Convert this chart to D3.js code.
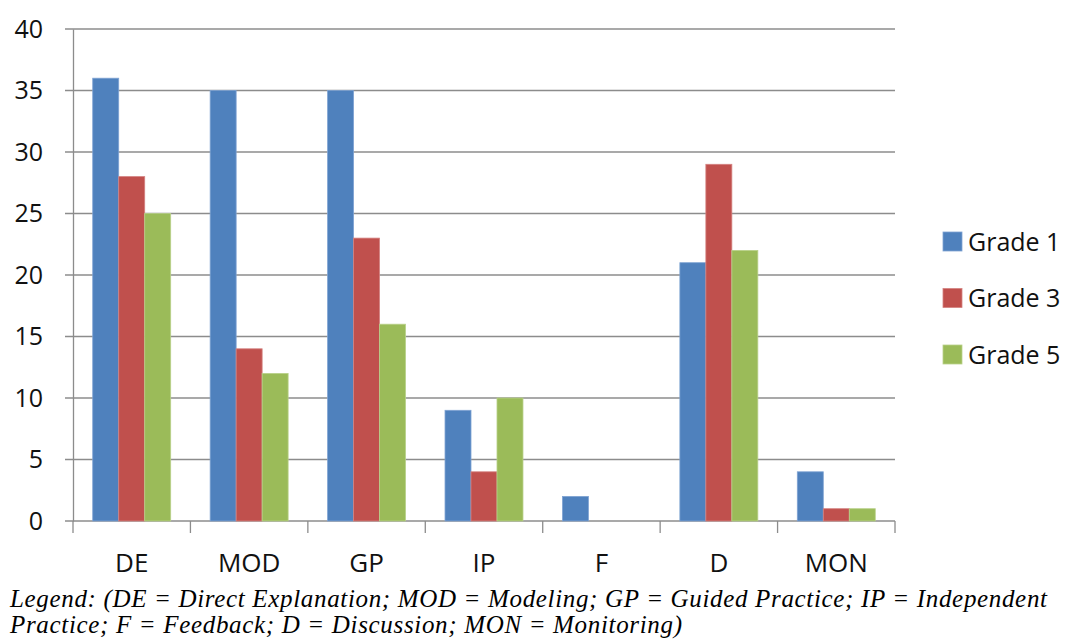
<!DOCTYPE html>
<html>
<head>
<meta charset="utf-8">
<script src="https://cdn.jsdelivr.net/npm/d3@7"></script>
<style>
  body { margin: 0; background: #fff; }
</style>
</head>
<body>
<div id="chart"></div>
<script>
// data
const categories = ["DE", "MOD", "GP", "IP", "F", "D", "MON"];
const seriesNames = ["Grade 1", "Grade 3", "Grade 5"];
const grade1 = [36, 35, 35, 9, 2, 21, 4];
const grade3 = [28, 14, 23, 4, 0, 29, 1];
const grade5 = [25, 12, 16, 10, 0, 22, 1];
const yTicks = [0, 5, 10, 15, 20, 25, 30, 35, 40];
const colors = ["#4F81BD", "#C0504D", "#9BBB59"];
const edges = ["#7fa3d3", "#d48280", "#b9d18a"];
const captionLines = [
  "Legend: (DE = Direct Explanation; MOD = Modeling; GP = Guided Practice; IP = Independent",
  "Practice; F = Feedback; D = Discussion; MON = Monitoring)"
];
const captionWidths = [1037, 672];

const width = 1067, height = 641;
const plot = {left: 73, right: 895, top: 29, bottom: 521};
const values = [grade1, grade3, grade5];

const svg = d3.select("#chart").append("svg")
  .attr("width", width)
  .attr("height", height)
  .attr("font-family", "'Open Sans', sans-serif");

const x = d3.scaleBand(categories, [plot.left, plot.right]).paddingInner(0).paddingOuter(0);
const y = d3.scaleLinear([0, 40], [plot.bottom, plot.top]);
const groupW = x.bandwidth() * 0.664;
const xs = d3.scaleBand(d3.range(seriesNames.length), [0, groupW]);

// gridlines + y tick marks
svg.append("g")
  .selectAll("line")
  .data(yTicks)
  .join("line")
  .attr("x1", plot.left - 8)
  .attr("x2", plot.right)
  .attr("y1", d => y(d))
  .attr("y2", d => y(d))
  .attr("stroke", "#8c8c8c")
  .attr("stroke-width", 1.3);

// y axis
svg.append("g")
  .attr("transform", `translate(${plot.left},0)`)
  .call(d3.axisLeft(y).tickValues(yTicks).tickSize(0).tickPadding(30))
  .call(g => g.select(".domain").attr("stroke", "#8c8c8c").attr("stroke-width", 1.3))
  .call(g => g.attr("font-size", null).attr("font-family", null))
  .selectAll("text")
  .style("font-size", "25px")
  .attr("fill", "#111");

// x axis
svg.append("g")
  .attr("transform", `translate(0,${plot.bottom})`)
  .call(d3.axisBottom(x).tickSize(0).tickPadding(33))
  .call(g => g.select(".domain").remove())
  .call(g => g.attr("font-size", null).attr("font-family", null))
  .selectAll("text")
  .style("font-size", "26px")
  .attr("fill", "#111");

// x category tick marks at band edges
svg.append("g")
  .selectAll("line")
  .data(categories.concat(["end"]))
  .join("line")
  .attr("x1", (d, i) => plot.left + i * x.step())
  .attr("x2", (d, i) => plot.left + i * x.step())
  .attr("y1", plot.bottom)
  .attr("y2", plot.bottom + 12)
  .attr("stroke", "#8c8c8c")
  .attr("stroke-width", 1.3);

// bars
values.forEach((vals, s) => {
  svg.append("g")
    .selectAll("rect")
    .data(vals)
    .join("rect")
    .attr("x", (d, i) => x(categories[i]) + (x.bandwidth() - groupW) / 2 + xs(s))
    .attr("y", d => y(d))
    .attr("width", xs.bandwidth())
    .attr("height", d => y(0) - y(d))
    .attr("fill", colors[s])
    .attr("stroke", d => d > 0 ? edges[s] : "none")
    .attr("stroke-width", 0.8);
});

// legend
const legend = svg.append("g").attr("transform", "translate(943,232)");
seriesNames.forEach((name, i) => {
  const row = legend.append("g").attr("transform", `translate(0,${i * 56.5})`);
  row.append("rect")
    .attr("width", 19).attr("height", 19)
    .attr("fill", colors[i])
    .attr("stroke", edges[i]).attr("stroke-width", 0.8);
  row.append("text")
    .attr("x", 25).attr("y", 10)
    .attr("dy", "0.35em")
    .attr("font-size", "25px")
    .attr("fill", "#111")
    .text(name);
});

// caption below the chart
svg.append("g")
  .selectAll("text")
  .data(captionLines)
  .join("text")
  .attr("x", 10)
  .attr("y", (d, i) => 607 + i * 26)
  .attr("font-family", "'Liberation Serif', 'Times New Roman', serif")
  .attr("font-style", "italic")
  .attr("font-size", "25px")
  .attr("textLength", (d, i) => captionWidths[i])
  .attr("lengthAdjust", "spacing")
  .attr("fill", "#000")
  .text(d => d);
</script>
</body>
</html>
